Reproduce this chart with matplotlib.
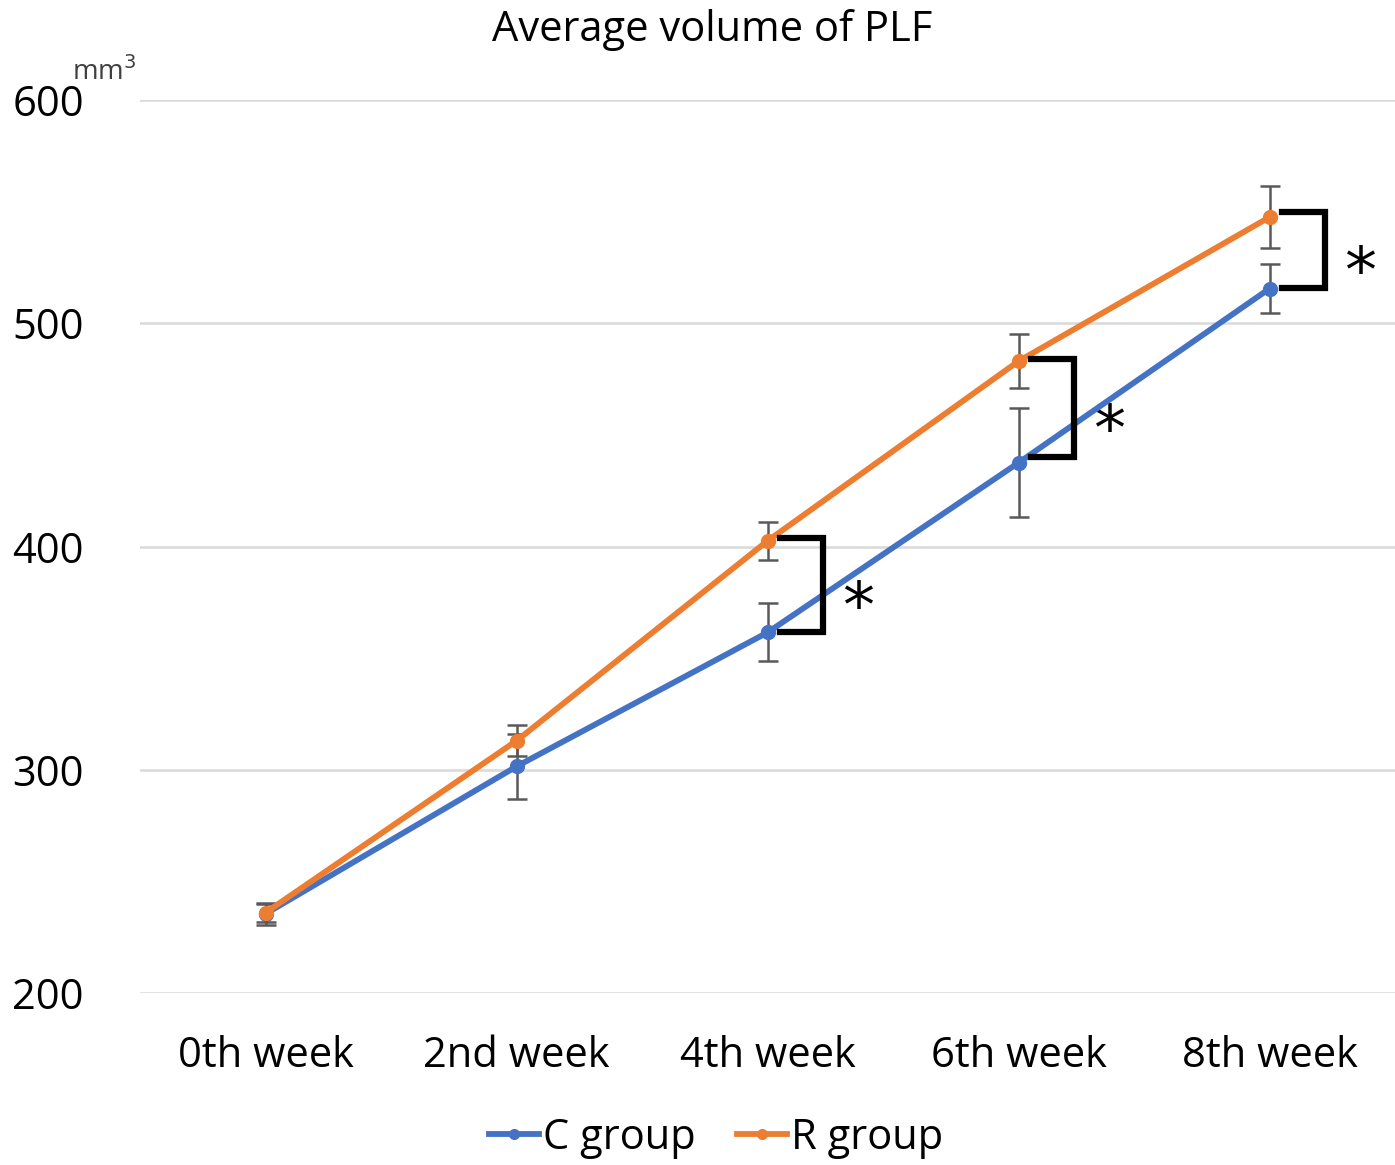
import matplotlib.pyplot as plt
from matplotlib.lines import Line2D

plt.rcParams['font.family'] = ['Open Sans', 'DejaVu Sans']

weeks = ['0th week', '2nd week', '4th week', '6th week', '8th week']
c_group = [235.5, 301.5, 361.5, 437.5, 515.5]
c_err = [5, 14.5, 13, 24.5, 11]
r_group = [236, 313, 402.5, 483, 547.5]
r_err = [4, 7, 8.5, 12, 14]

# significance brackets: (week index, top value, bottom value)
sig_idx = [2, 3, 4]
sig_top = [404, 484, 550]
sig_bot = [361.7, 440, 516]

C_COL = '#4472C4'
R_COL = '#ED7D31'


def main():
    fig = plt.figure(figsize=(13.95, 11.65), dpi=100)
    ax = fig.add_axes([0.1004, 0.1476, 0.8996, 0.7666])
    x = list(range(len(weeks)))

    ax.errorbar(x, c_group, yerr=c_err, color=C_COL, lw=4.2, marker='o', ms=10,
                ecolor='#595959', elinewidth=1.8, capsize=7, capthick=1.8, zorder=3)
    ax.errorbar(x, r_group, yerr=r_err, color=R_COL, lw=4.2, marker='o', ms=10,
                ecolor='#595959', elinewidth=1.8, capsize=7, capthick=1.8, zorder=4)

    for i, t, b in zip(sig_idx, sig_top, sig_bot):
        ax.plot([i + 0.05, i + 0.22, i + 0.22, i + 0.05], [t, t, b, b],
                color='black', lw=4.5, solid_joinstyle='miter', zorder=5)
        # asterisk glyph sits high in the em box, so place by baseline
        ax.text(i + 0.36, (t + b) / 2 - 19, '*', fontsize=46, ha='center',
                va='baseline', family='DejaVu Sans')

    ax.set_xlim(-0.5, 4.5)
    ax.set_ylim(200, 600)
    ax.set_yticks([200, 300, 400, 500, 600])
    ax.set_xticks(x)
    ax.set_xticklabels(weeks)
    ax.tick_params(axis='both', length=0, labelsize=30, colors='black')
    ax.tick_params(axis='y', pad=92)
    for lab in ax.get_yticklabels():
        lab.set_horizontalalignment('left')
    ax.tick_params(axis='x', pad=30)
    ax.grid(axis='y', color='#d9d9d9', lw=1.8)
    ax.set_axisbelow(True)
    for s in ax.spines.values():
        s.set_visible(False)

    fig.text(712 / 1395, 1 - 30 / 1165, 'Average volume of PLF', fontsize=30,
             ha='center', va='center')
    fig.text(72 / 1395, 1 - 72 / 1165, 'mm$^3$', fontsize=20, ha='left', va='center',
             color='#404040')

    handles = [Line2D([], [], color=C_COL, lw=4.2, marker='o', ms=7),
               Line2D([], [], color=R_COL, lw=4.2, marker='o', ms=7)]
    fig.legend(handles, ['C group', 'R group'], loc='center',
               bbox_to_anchor=(716 / 1395, 1 - 1138 / 1165), ncol=2,
               frameon=False, fontsize=30, handlelength=1.2, handletextpad=0.1,
               columnspacing=1.0)

    fig.savefig('out.png', dpi=100)


if __name__ == "__main__":
    main()
